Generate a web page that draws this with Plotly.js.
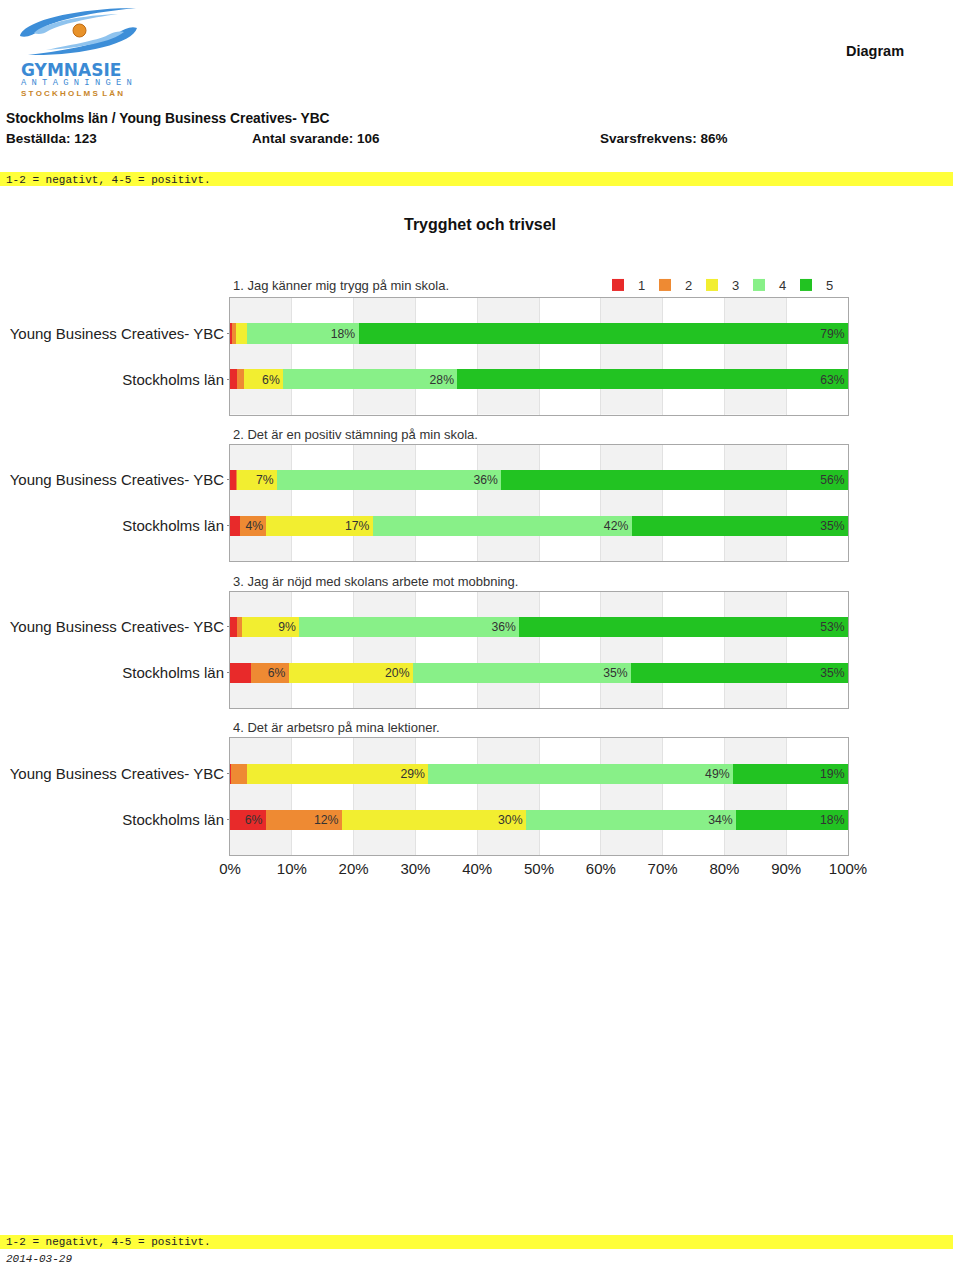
<!DOCTYPE html>
<html><head><meta charset="utf-8">
<script src="https://cdn.plot.ly/plotly-3.0.1.min.js"></script>
<style>html,body{margin:0;padding:0;background:#fff}</style>
</head><body><div id="chart" style="width:960px;height:1265px"></div>
<script>
// ---------- DATA ----------
const categories = ['Young Business Creatives- YBC', 'Stockholms län'];
const questions = [
  '1. Jag känner mig trygg på min skola.',
  '2. Det är en positiv stämning på min skola.',
  '3. Jag är nöjd med skolans arbete mot mobbning.',
  '4. Det är arbetsro på mina lektioner.'
];
const levels = ['1', '2', '3', '4', '5'];
// percent per answer level 1..5
const q1_ybc   = [0.4, 0.6, 1.8, 18.0, 79.2];
const q1_sthlm = [1.2, 1.1, 6.3, 28.2, 63.2];
const q2_ybc   = [0.9, 0.2, 6.5, 36.3, 56.1];
const q2_sthlm = [1.6, 4.3, 17.2, 41.9, 35.0];
const q3_ybc   = [1.1, 0.9, 9.2, 35.6, 53.2];
const q3_sthlm = [3.4, 6.1, 20.1, 35.3, 35.1];
const q4_ybc   = [0.2, 2.5, 29.4, 49.3, 18.6];
const q4_sthlm = [5.8, 12.3, 29.8, 34.0, 18.1];
const xTicks = [0, 10, 20, 30, 40, 50, 60, 70, 80, 90, 100];
const headerTitle = 'Stockholms län / Young Business Creatives- YBC';
const ordered = 'Beställda: 123';
const answered = 'Antal svarande: 106';
const rate = 'Svarsfrekvens: 86%';
const note = '1-2 = negativt, 4-5 = positivt.';
const chartTitle = 'Trygghet och trivsel';
const dateText = '2014-03-29';

// ---------- STYLE ----------
const W = 960, H = 1265;
const colors = ['#e82a2a', '#ee8a33', '#f2ee30', '#88f088', '#22c322'];
const SANS = 'Liberation Sans, Arial, sans-serif';
const MONO = 'Liberation Mono, DejaVu Sans Mono, monospace';
const px = (x) => x / W;
const py = (y) => 1 - y / H;
const panels = [[298, 414.5], [444.5, 561], [591.5, 708], [738, 855]];
const panelTitleY = [285, 434, 581, 727];

const series = [[q1_ybc, q1_sthlm], [q2_ybc, q2_sthlm], [q3_ybc, q3_sthlm], [q4_ybc, q4_sthlm]];

const traces = [];
const layout = {
  width: W, height: H, margin: {l: 0, r: 0, t: 0, b: 0, autoexpand: false},
  paper_bgcolor: '#fff', plot_bgcolor: 'rgba(0,0,0,0)',
  barmode: 'stack', bargap: 0.5625,
  showlegend: true,
  legend: {orientation: 'h', x: px(598), y: py(285), xanchor: 'left', yanchor: 'middle',
    font: {family: SANS, size: 13, color: '#333'}, bgcolor: 'rgba(0,0,0,0)',
    entrywidth: 2, entrywidthmode: 'pixels', traceorder: 'normal', itemclick: false},
  shapes: [], annotations: [], font: {family: SANS}
};

series.forEach((pair, qi) => {
  const n = qi + 1;
  const xa = 'x' + (n === 1 ? '' : n), ya = 'y' + (n === 1 ? '' : n);
  levels.forEach((lv, li) => {
    const vals = [pair[0][li], pair[1][li]];
    traces.push({
      type: 'bar', orientation: 'h', name: lv, legendgroup: lv, showlegend: qi === 0,
      y: categories, x: vals, xaxis: xa, yaxis: ya,
      marker: {color: colors[li], line: {width: 0}},
      text: vals.map(v => v >= 3.9 ? Math.round(v) + '%' : ''),
      textposition: 'inside', insidetextanchor: 'end', textangle: 0,
      textfont: {family: SANS, size: 13, color: '#333'},
      hoverinfo: 'skip'
    });
  });
  const [top, bot] = panels[qi];
  layout['xaxis' + (n === 1 ? '' : n)] = {
    anchor: ya, domain: [px(230), px(848)], range: [0, 100], tickvals: xTicks,
    ticktext: xTicks.map(t => t + '%'), showticklabels: qi === 3,
    tickfont: {family: SANS, size: 15, color: '#222'},
    showgrid: true, gridcolor: '#e2e2e2', zeroline: false,
    showline: true, mirror: true, linecolor: '#a8a8a8', linewidth: 1, fixedrange: true
  };
  layout['yaxis' + (n === 1 ? '' : n)] = {
    anchor: xa, domain: [py(bot), py(top)], type: 'category', categoryarray: categories,
    range: [1.765, -0.773], showline: true, mirror: true, linecolor: '#a8a8a8',
    ticks: 'outside', ticklen: 2, tickcolor: '#888', showgrid: false,
    tickfont: {family: SANS, size: 15, color: '#222'}, fixedrange: true
  };
  // alternating background bands
  for (let k = 0; k < xTicks.length - 1; k += 2) {
    layout.shapes.push({type: 'rect', xref: xa, yref: ya + ' domain',
      x0: xTicks[k], x1: xTicks[k + 1], y0: 0, y1: 1,
      fillcolor: '#f2f2f2', line: {width: 0}, layer: 'below'});
  }
  layout.annotations.push({xref: 'paper', yref: 'paper', x: px(231), y: py(panelTitleY[qi]),
    xanchor: 'left', yanchor: 'middle', showarrow: false, text: questions[qi],
    font: {family: SANS, size: 13, color: '#333'}});
});

// header / footer yellow bands
[[172, 186], [1235, 1249]].forEach(([a, b]) => layout.shapes.push({type: 'rect', xref: 'paper', yref: 'paper',
  x0: 0, x1: px(953), y0: py(b), y1: py(a), fillcolor: '#ffff3a', line: {width: 0}, layer: 'below'}));

// logo swooshes
const path = (pts) => pts.map(p => typeof p === 'string' ? p : (px(p[0]) + ',' + py(p[1]))).join(' ');
layout.shapes.push({type: 'path', xref: 'paper', yref: 'paper', fillcolor: '#3d8ed8', line: {width: 0},
  path: path(['M', [20, 36], 'C', [24, 20], [80, 8], [136, 8], 'C', [95, 12], [52, 20], [40, 30], 'C', [34, 35], [26, 38], [20, 36], 'Z'])});
layout.shapes.push({type: 'path', xref: 'paper', yref: 'paper', fillcolor: '#8fc3ee', line: {width: 0},
  path: path(['M', [34, 33], 'C', [44, 22], [85, 15], [118, 14], 'C', [90, 18], [60, 24], [48, 31], 'C', [44, 34], [38, 35], [34, 33], 'Z'])});
layout.shapes.push({type: 'path', xref: 'paper', yref: 'paper', fillcolor: '#3d8ed8', line: {width: 0},
  path: path(['M', [137, 28], 'C', [133, 44], [80, 56], [28, 55], 'C', [70, 50], [108, 42], [118, 33], 'C', [124, 29], [131, 26], [137, 28], 'Z'])});
layout.shapes.push({type: 'path', xref: 'paper', yref: 'paper', fillcolor: '#8fc3ee', line: {width: 0},
  path: path(['M', [124, 32], 'C', [112, 42], [80, 48], [46, 50], 'C', [75, 44], [100, 40], [110, 34], 'C', [114, 32], [119, 31], [124, 32], 'Z'])});
layout.shapes.push({type: 'circle', xref: 'paper', yref: 'paper', x0: px(73), x1: px(86), y0: py(37), y1: py(24),
  fillcolor: '#e8922a', line: {color: '#c06a10', width: 1}});

const ann = (x, y, text, font, xanchor) => layout.annotations.push({xref: 'paper', yref: 'paper',
  x: px(x), y: py(y), xanchor: xanchor || 'left', yanchor: 'middle', showarrow: false, text, font});
ann(19, 70, '<b>GYMNASIE</b>', {family: 'DejaVu Sans, sans-serif', size: 17, color: '#3b8ad4'});
ann(19, 83, 'A N T A G N I N G E N', {family: MONO, size: 8.8, color: '#3b8ad4'});
ann(19, 93, '<b>S T O C K H O L M S  L Ä N</b>', {family: SANS, size: 8, color: '#c8862a'});
ann(906, 51, '<b>Diagram</b>', {family: SANS, size: 14.5, color: '#111'}, 'right');
ann(4, 118, '<b>' + headerTitle + '</b>', {family: SANS, size: 13.8, color: '#111'});
ann(4, 138, '<b>' + ordered + '</b>', {family: SANS, size: 13.5, color: '#111'});
ann(250, 138, '<b>' + answered + '</b>', {family: SANS, size: 13.5, color: '#111'});
ann(598, 138, '<b>' + rate + '</b>', {family: SANS, size: 13.5, color: '#111'});
ann(4, 180, note, {family: MONO, size: 11, color: '#222'});
ann(480, 225, '<b>' + chartTitle + '</b>', {family: SANS, size: 16, color: '#111'}, 'center');
ann(4, 1242, note, {family: MONO, size: 11, color: '#222'});
ann(4, 1259, '<i>' + dateText + '</i>', {family: MONO, size: 11, color: '#222'});

Plotly.newPlot('chart', traces, layout, {displayModeBar: false, staticPlot: true});
</script>
</body></html>
